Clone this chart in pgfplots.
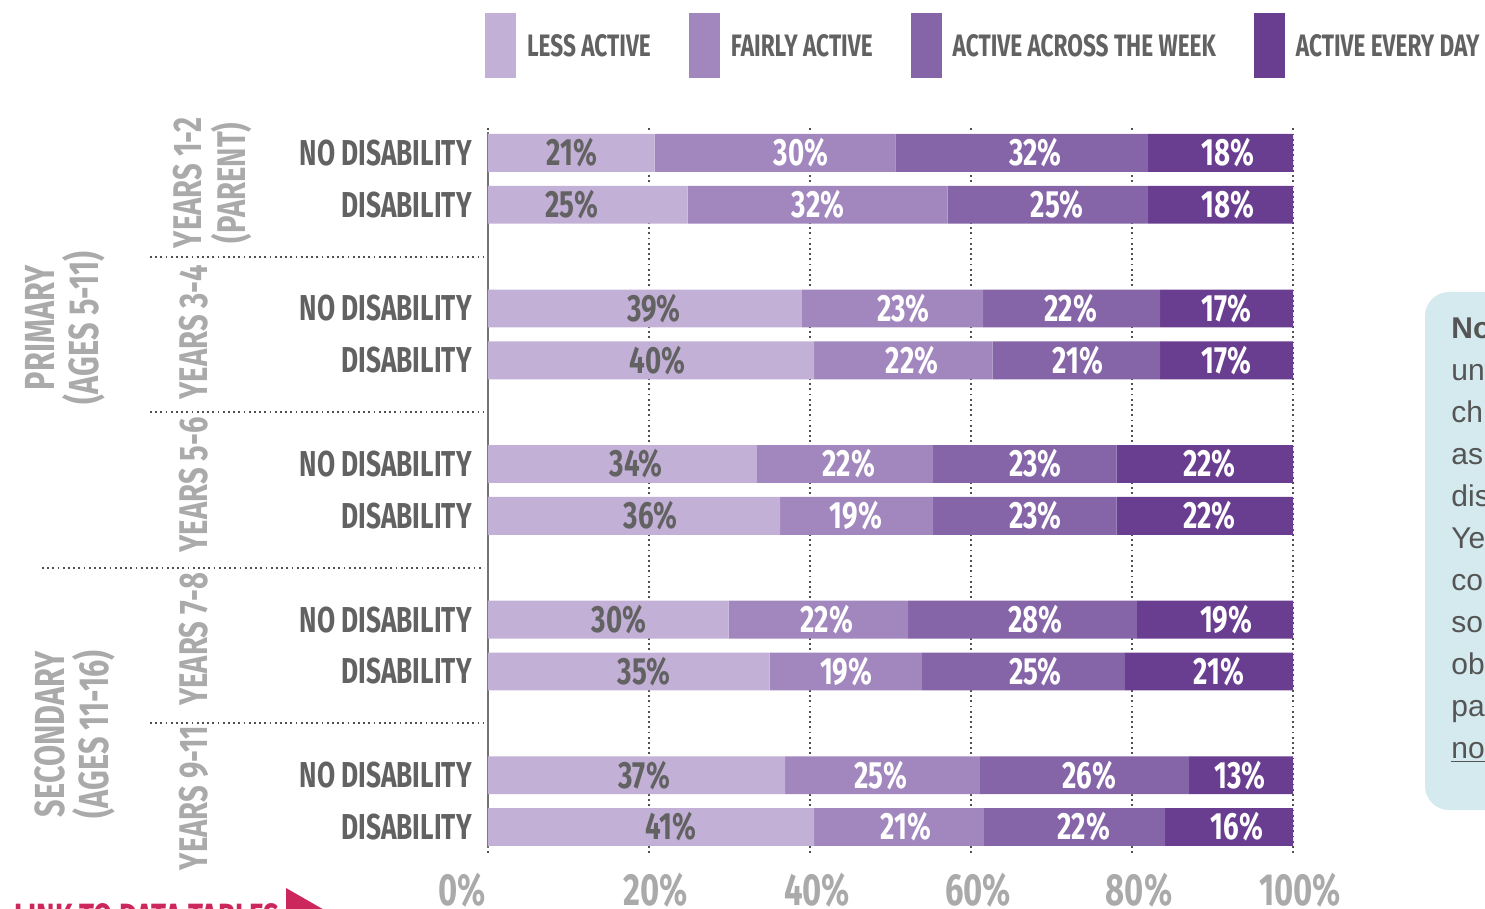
\documentclass[border=0pt]{standalone}
\usepackage{pgfplots}
\pgfplotsset{compat=1.18}
\usepackage{pgfplotstable}
\usepackage{fontspec}
\setmainfont{Liberation Sans}
\newfontfamily\cond{Fira Sans}[FakeStretch=0.73]
\definecolor{c1}{RGB}{195,176,214}
\definecolor{c2}{RGB}{162,135,191}
\definecolor{c3}{RGB}{133,100,168}
\definecolor{c4}{RGB}{105,61,143}
\definecolor{lab}{RGB}{98,98,98}
\definecolor{grp}{RGB}{170,170,170}
\definecolor{notebox}{RGB}{212,234,238}
\definecolor{notetext}{RGB}{85,85,85}
\definecolor{pinkred}{RGB}{204,39,92}
\definecolor{gridc}{RGB}{80,80,80}
\newcommand\fbar{\cond\bfseries\fontsize{19}{19}\selectfont}
\newcommand\fcat{\cond\bfseries\fontsize{18}{18}\selectfont}
\newcommand\ftick{\cond\bfseries\fontsize{22.5}{22.5}\selectfont}
\newcommand\fleg{\cond\bfseries\fontsize{15.5}{15.5}\selectfont}
\newcommand\fgrp{\cond\bfseries\fontsize{20}{22}\selectfont}
\newcommand\fbig{\cond\bfseries\fontsize{21}{22}\selectfont}

% bar segment widths (percent, read from the bar boundaries)
\pgfplotstableread{
y a b c d
13 20.7 29.9 31.4 18.0
12 24.8 32.3 24.9 18.0
10 39.0 22.5 22.0 16.5
9 40.5 22.2 20.8 16.5
7 33.4 21.9 22.8 21.9
6 36.3 19.0 22.8 21.9
4 29.9 22.3 28.4 19.4
3 35.0 18.9 25.2 20.9
1 36.9 24.2 26.0 12.9
0 40.5 21.1 22.5 15.9
}\bars

% printed labels and their positions
\pgfplotstableread{
y x1 x2 x3 x4 l1 l2 l3 l4
13 10.4 38.9 68.0 91.9 21 30 32 18
12 10.4 41.0 70.7 91.9 25 32 25 18
10 20.6 51.6 72.4 91.7 39 23 22 17
9 21.1 52.7 73.3 91.7 40 22 21 17
7 18.4 44.8 68.0 89.6 34 22 23 22
6 20.2 45.7 68.0 89.6 36 19 23 22
4 16.3 42.1 68.0 91.7 30 22 28 19
3 19.4 44.5 68.0 90.8 35 19 25 21
1 19.4 48.8 74.7 93.4 37 25 26 13
0 22.7 51.9 74.0 93.0 41 21 22 16
}\labels

\tikzset{sepl/.style={draw=gridc, line width=0.9pt, dash pattern=on 0.9pt off 1.7pt}}
\pgfplotsset{
  sw/.style={draw=none, fill=#1,
    legend image code/.code={\fill[#1] (0pt,-15.75pt) rectangle (15.5pt,16.75pt);}},
  common/.style={
    at={(244pt,-63.5pt)}, anchor=north west,
    scale only axis, width=402.5pt, height=363pt,
    xmin=0, xmax=100, ymin=-0.5, ymax=13.5, clip=false},
  lbl/.style={draw=none, mark=none, nodes near coords={\pgfplotspointmeta\%},
    point meta=explicit symbolic,
    every node near coord/.style={anchor=center, inner sep=0pt, font=\fbar, text=#1}},
}

\begin{document}
\begin{tikzpicture}
\useasboundingbox (0pt,0pt) rectangle (742.5pt,-454.5pt);

% note box on the right (partly outside the picture)
\fill[notebox, rounded corners=12pt] (712.5pt,-146pt) rectangle (800pt,-405pt);
\node[anchor=north west, inner sep=0pt, align=left, text=notetext,
      font=\fontsize{15}{21}\selectfont] at (725.5pt,-158.5pt)
  {\textbf{No}\\un\\ch\\as\\dis\\Ye\\co\\so\\ob\\pa\\\underline{no}};

% link at the bottom left (partly outside the picture)
\node[anchor=north west, inner sep=0pt, text=pinkred, font=\cond\bfseries\fontsize{19}{19}\selectfont]
  at (7pt,-451.5pt) {LINK TO DATA TABLES};
\fill[pinkred] (143pt,-444pt) -- (143pt,-475pt) -- (170pt,-459.5pt) -- cycle;

\begin{axis}[common,
  xbar stacked, bar width=0.73,
  axis line style={draw=none},
  tick style={draw=none},
  xtick={0,20,40,60,80,100},
  xticklabels={\makebox[0pt][r]{0\%\hspace{4.5pt}},20\%,40\%,60\%,80\%,100\%},
  xticklabel style={font=\ftick, text=grp, inner sep=0pt, anchor=north, yshift=-10pt, xshift=3.5pt},
  ytick={0,1,3,4,6,7,9,10,12,13},
  yticklabels={DISABILITY,NO DISABILITY,DISABILITY,NO DISABILITY,DISABILITY,NO DISABILITY,DISABILITY,NO DISABILITY,DISABILITY,NO DISABILITY},
  yticklabel style={font=\fcat, text=lab, inner sep=0pt, anchor=east, xshift=-8pt},
  xmajorgrids,
  grid style={sepl},
  legend columns=4,
  legend cell align=left,
  legend style={at={(axis description cs:-0.0037,1.157)}, anchor=north west,
    draw=none, fill=none, inner sep=0pt, outer sep=0pt, font=\fleg, text=lab,
    /tikz/every odd column/.append style={column sep=3.5pt},
    /tikz/every even column/.append style={column sep=17pt}},
]
\addplot[sw=c1] table[x=a, y=y] {\bars};
\addplot[sw=c2] table[x=b, y=y] {\bars};
\addplot[sw=c3] table[x=c, y=y] {\bars};
\addplot[sw=c4] table[x=d, y=y] {\bars};
\legend{LESS ACTIVE, FAIRLY ACTIVE, ACTIVE ACROSS THE WEEK, ACTIVE EVERY DAY}

% value axis line
\draw[gridc!80, line width=1.1pt] (axis cs:0,-0.4) -- (axis cs:0,13.4);

% group separators
\draw[sepl] ([xshift=-169pt]axis cs:0,11) -- ([xshift=-2pt]axis cs:0,11);
\draw[sepl] ([xshift=-169pt]axis cs:0,8) -- ([xshift=-2pt]axis cs:0,8);
\draw[sepl] ([xshift=-223pt]axis cs:0,5) -- ([xshift=-2pt]axis cs:0,5);
\draw[sepl] ([xshift=-169pt]axis cs:0,2) -- ([xshift=-2pt]axis cs:0,2);

% year labels
\node[rotate=90, align=center, text=grp, font=\fgrp, inner sep=0pt]
  at ([xshift=-138pt]axis cs:0,12.42) {YEARS 1-2\\(PARENT)};
\node[rotate=90, text=grp, font=\fgrp, inner sep=0pt] at ([xshift=-147pt]axis cs:0,9.54) {YEARS 3-4};
\node[rotate=90, text=grp, font=\fgrp, inner sep=0pt] at ([xshift=-147pt]axis cs:0,6.60) {YEARS 5-6};
\node[rotate=90, text=grp, font=\fgrp, inner sep=0pt] at ([xshift=-147pt]axis cs:0,3.62) {YEARS 7-8};
\node[rotate=90, text=grp, font=\fgrp, inner sep=0pt] at ([xshift=-147pt]axis cs:0,0.56) {YEARS 9-11};
% stage labels
\node[rotate=90, align=center, text=grp, font=\fbig, inner sep=0pt]
  at ([xshift=-211.5pt]axis cs:0,9.63) {PRIMARY\\(AGES 5-11)};
\node[rotate=90, align=center, text=grp, font=\fbig, inner sep=0pt]
  at ([xshift=-206.5pt]axis cs:0,1.79) {SECONDARY\\(AGES 11-16)};
\end{axis}

\begin{axis}[common, hide axis]
\addplot[lbl=lab] table[x=x1, y=y, meta=l1] {\labels};
\addplot[lbl=white] table[x=x2, y=y, meta=l2] {\labels};
\addplot[lbl=white] table[x=x3, y=y, meta=l3] {\labels};
\addplot[lbl=white] table[x=x4, y=y, meta=l4] {\labels};
\end{axis}
\end{tikzpicture}
\end{document}
